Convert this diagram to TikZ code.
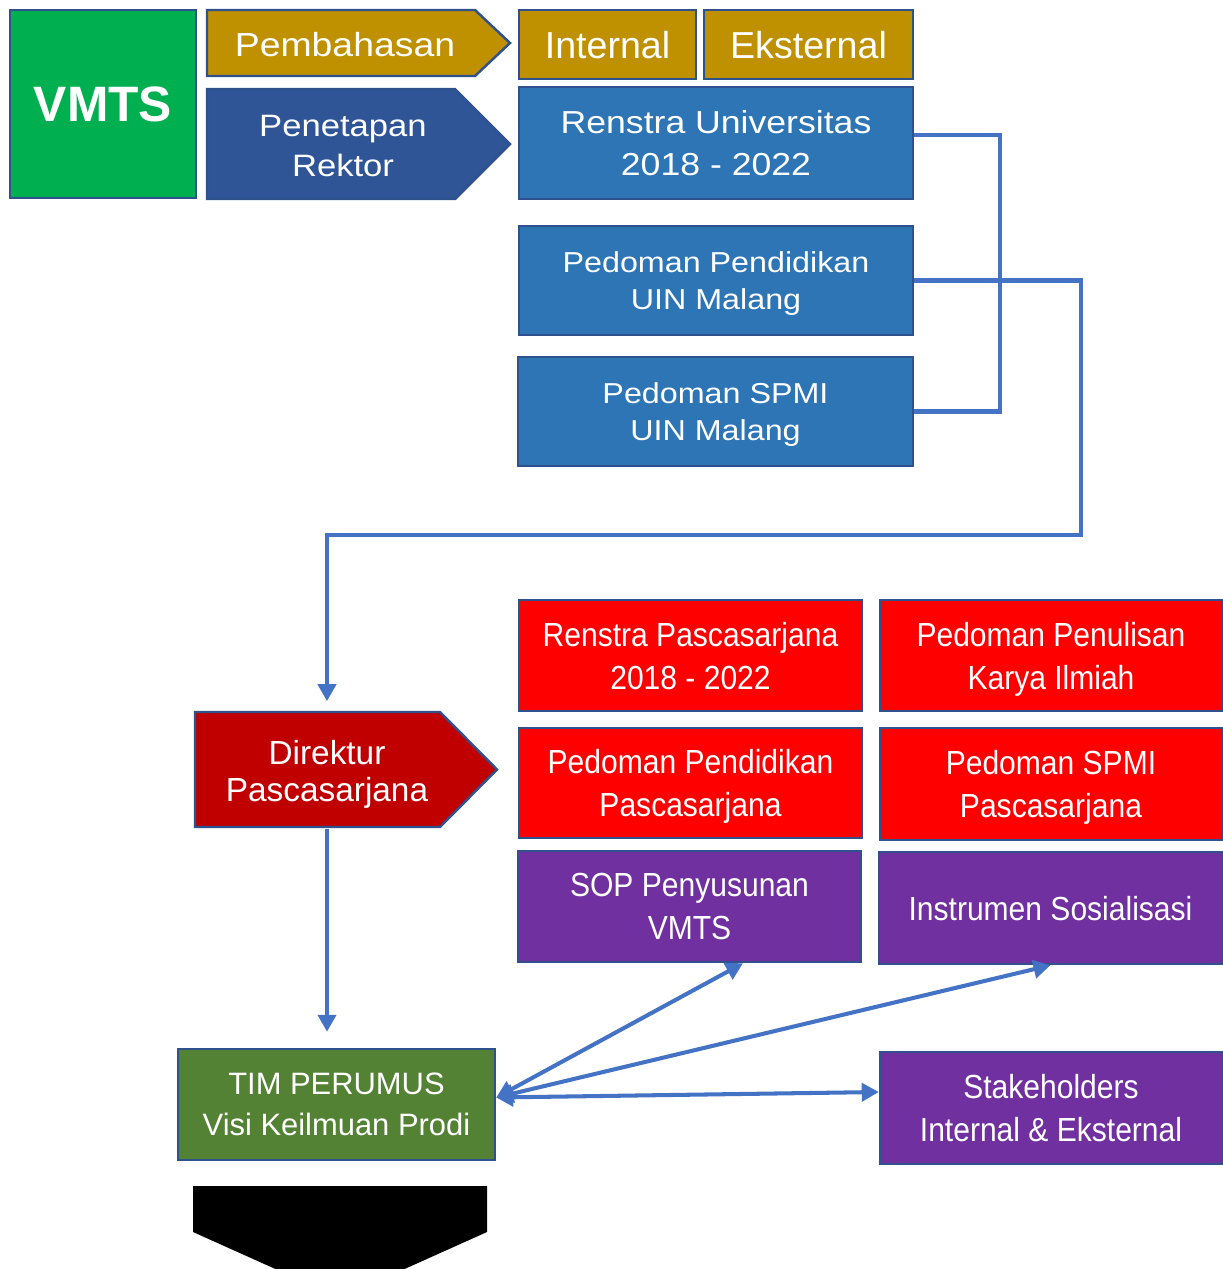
\documentclass[tikz,border=0pt]{standalone}
\usepackage{fontspec}
\setmainfont{Liberation Sans}
\newfontfamily\wideSans[FakeStretch=1.12]{Liberation Sans}
\newfontfamily\narrowSans[FakeStretch=0.9]{Liberation Sans}
\usetikzlibrary{arrows.meta,calc}
\definecolor{edge}{HTML}{2F528F}
\definecolor{conn}{HTML}{4472C4}
\definecolor{vmtsgreen}{HTML}{00B050}
\definecolor{gold}{HTML}{BF9000}
\definecolor{darkblue}{HTML}{2F5597}
\definecolor{midblue}{HTML}{2E75B6}
\definecolor{darkred}{HTML}{C00000}
\definecolor{brightred}{HTML}{FF0000}
\definecolor{purp}{HTML}{7030A0}
\definecolor{timgreen}{HTML}{548235}
\tikzset{
  sized/.style 2 args={minimum width=#1*0.02cm,minimum height=#2*0.02cm},
  basebox/.style={rectangle,draw=edge,line width=1.4pt,text=white,align=center,inner sep=0pt,text depth=0pt},
  goldbox/.style={basebox,fill=gold,font=\fontsize{21.4}{25}\selectfont},
  bluebox/.style={basebox,fill=midblue,font=\wideSans\fontsize{16.4}{21}\selectfont},
  redbox/.style={basebox,fill=brightred,font=\narrowSans\fontsize{19}{24.4}\selectfont},
  purplebox/.style={basebox,fill=purp,font=\narrowSans\fontsize{19}{24.4}\selectfont},
  arrowshape/.style={draw=edge,line width=1.4pt},
  conn/.style={draw=conn,line width=2.3pt},
  >={Triangle[length=0.34cm,width=0.36cm]}
}
\begin{document}
\begin{tikzpicture}[x=0.02cm,y=-0.02cm]
	\useasboundingbox (0,0) rectangle (1223,1269);
	\clip (0,0) rectangle (1223,1269);
	% kopf
	\node[basebox,fill=vmtsgreen,sized={186}{188},font=\bfseries\fontsize{28.3}{34}\selectfont] (vmts) at (103,104) {VMTS};
	\draw[arrowshape,fill=gold] (207,10) -- (475,10) -- (510,43) -- (475,76) -- (207,76) -- cycle;
	\node[text=white,text depth=0pt,font=\wideSans\fontsize{19}{23}\selectfont] (pemb) at (345,44) {Pembahasan};
	\draw[arrowshape,fill=darkblue] (207,89) -- (455,89) -- (510,144) -- (455,199) -- (207,199) -- cycle;
	\node[text=white,align=center,text depth=0pt,font=\wideSans\fontsize{17.6}{22.7}\selectfont] (pene) at (343,146) {Penetapan\\Rektor};
	\node[goldbox,sized={177}{69}] (int) at (607.5,44.5) {Internal};
	\node[goldbox,sized={209}{69}] (eks) at (808.5,44.5) {Eksternal};
	% universitas
	\node[bluebox,sized={394}{112},font=\wideSans\fontsize{18.1}{23.8}\selectfont] (renu) at (716,143) {Renstra Universitas\\2018 - 2022};
	\node[bluebox,sized={394}{109}] (pedu) at (716,280.5) {Pedoman Pendidikan\\UIN Malang};
	\node[bluebox,sized={395}{109}] (spmu) at (715.5,411.5) {Pedoman SPMI\\UIN Malang};
	% pascasarjana
	\draw[arrowshape,fill=darkred] (195,712) -- (440,712) -- (497,769.5) -- (440,827) -- (195,827) -- cycle;
	\node[text=white,align=center,text depth=0pt,sized={264}{115},font=\fontsize{19}{21.5}\selectfont] (dir) at (327,771) {Direktur\\Pascasarjana};
	\node[redbox,sized={343}{111}] (renp) at (690.5,655.5) {Renstra Pascasarjana\\2018 - 2022};
	\node[redbox,sized={342}{111}] (penk) at (1051,655.5) {Pedoman Penulisan\\Karya Ilmiah};
	\node[redbox,sized={343}{110}] (pedp) at (690.5,783) {Pedoman Pendidikan\\Pascasarjana};
	\node[redbox,sized={342}{112}] (spmp) at (1051,784) {Pedoman SPMI\\Pascasarjana};
	\node[purplebox,sized={343}{111}] (sop) at (689.5,906.5) {SOP Penyusunan\\VMTS};
	\node[purplebox,sized={343}{112}] (inst) at (1050.5,908) {Instrumen Sosialisasi};
	\node[purplebox,sized={342}{112}] (stake) at (1051,1108) {Stakeholders\\Internal \& Eksternal};
	\node[basebox,fill=timgreen,sized={317}{111},font=\fontsize{17.6}{23.2}\selectfont] (tim) at (336.5,1104.5) {TIM PERUMUS\\Visi Keilmuan Prodi};
	\fill[black] (193,1186) -- (487,1186) -- (487,1232) -- (340,1298) -- (193,1232) -- cycle;
	% verbindungen
	\coordinate (bend) at (1081,535);
	\draw[conn] ([yshift=0.16cm]renu.east) -- ++(86,0) |- (spmu.east);
	\draw[conn,->,shorten >=0.24cm] (pedu.east) -| (bend) -| (dir.north);
	\draw[conn,->,shorten >=0.32cm] (dir.south) -- (dir.south |- tim.north);
	\draw[conn,<->] ([yshift=0.14cm]tim.east) -- ([xshift=1.07cm]sop.south);
	\draw[conn,<->] ([yshift=0.14cm]tim.east) -- (inst.south);
	\draw[conn,<->] ([yshift=0.14cm]tim.east) -- ([yshift=0.32cm]stake.west);
\end{tikzpicture}
\end{document}
